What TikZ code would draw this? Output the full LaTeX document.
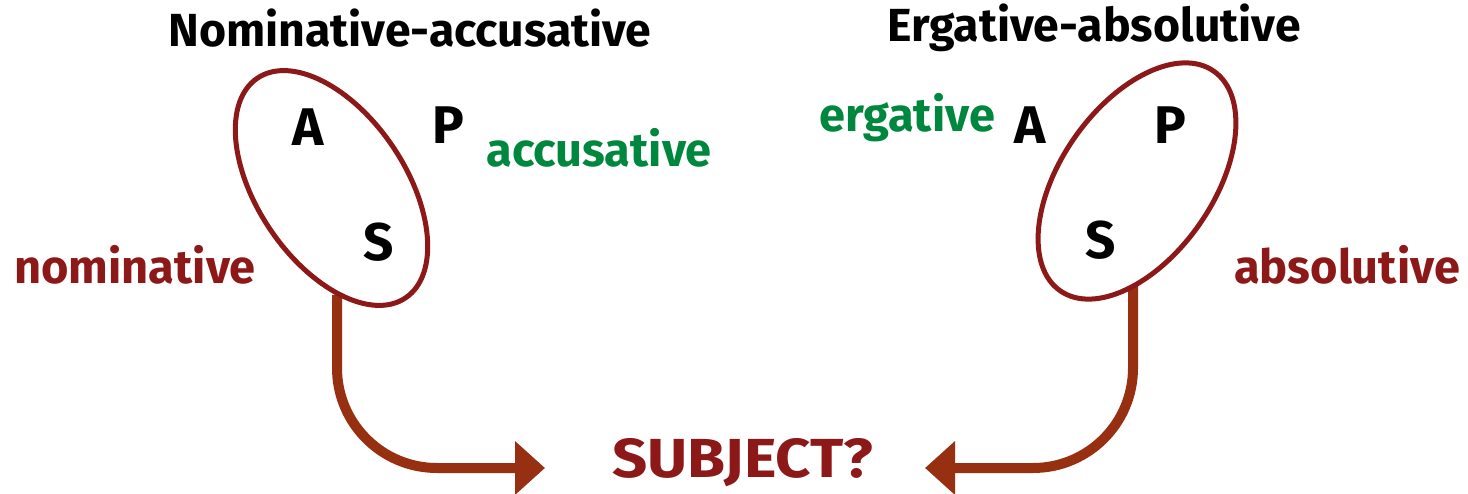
\documentclass[tikz,border=0pt]{standalone}
\usepackage{fontspec}
\setmainfont{Fira Sans}
\newfontfamily\wideff[FakeStretch=1.12]{Fira Sans}
\usetikzlibrary{shapes.geometric,arrows.meta}
\definecolor{dred}{RGB}{140,24,24}
\definecolor{dgreen}{RGB}{0,135,62}
\definecolor{arr}{RGB}{150,48,16}
\tikzset{
  lbl/.style={font=\bfseries\fontsize{47}{56}\selectfont, inner sep=0pt},
  ttl/.style={font=\bfseries\fontsize{46.4}{56}\selectfont, inner sep=0pt, text=black},
  role/.style={font=\bfseries\fontsize{53}{60}\selectfont, inner sep=0pt, text=black},
  oval/.style={draw=dred, line width=5pt, ellipse, fill=white, inner sep=0pt},
  bigarrow/.style={draw=arr, line width=10pt, rounded corners=100pt, -{Triangle[length=30pt,width=52pt]}},
}
\begin{document}
\begin{tikzpicture}[x=1pt,y=-1pt]
\useasboundingbox (0,0) rectangle (1468,494);
% titles
\node[ttl] (t1) at (410,28) {Nominative-accusative};
\node[ttl] (t2) at (1094,28) {Ergative-absolutive};
% subject
\node[text=dred, inner sep=0pt, font=\wideff\bfseries\fontsize{55}{60}\selectfont] (subj) at (743,463) {SUBJECT?};
\coordinate (lstart) at (337,295);
\coordinate (ltip) at (545,468);
\coordinate (rstart) at (1133,280);
\coordinate (rtip) at (925,468);
\draw[bigarrow] (lstart) |- (ltip);
\draw[bigarrow] (rstart) |- (rtip);
% ellipses
\node[oval, minimum width=265pt, minimum height=148pt, rotate=-56] (eL) at (331.5,188) {};
\node[oval, minimum width=268pt, minimum height=152pt, rotate=55] (eR) at (1137,181) {};
% left labels
\node[role] (aL) at (308,127) {A};
\node[role] (pL) at (448,125) {P};
\node[role] (sL) at (379,242) {S};
\node[lbl, text=dgreen] (acc) at (599,148) {accusative};
\node[lbl, text=dred] (nom) at (135,265) {nominative};
% right labels
\node[role] (aR) at (1030,125) {A};
\node[role] (pR) at (1170,125) {P};
\node[role] (sR) at (1101,240) {S};
\node[lbl, text=dgreen] (erg) at (907,118) {ergative};
\node[lbl, text=dred] (abs) at (1347,265) {absolutive};
\end{tikzpicture}
\end{document}
